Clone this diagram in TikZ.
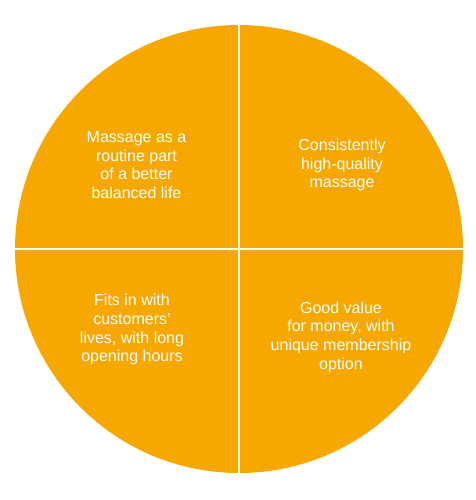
\documentclass[tikz,border=0pt]{standalone}
\usepackage{fontspec}
\setmainfont{Liberation Sans}
\definecolor{pieorange}{RGB}{246,167,0}
\begin{document}
\begin{tikzpicture}[x=1pt,y=-1pt,
  label text/.style={text=white, align=center, inner sep=0pt,
    font=\fontsize{16}{18.7}\selectfont},
  divider/.style={draw=white, line width=1.5pt}]
\useasboundingbox (0,0) rectangle (475,500);
\node (pie) [circle, fill=pieorange, minimum size=448pt, inner sep=0pt] at (239,249) {};
\draw[divider] (pie.north) -- (pie.south);
\draw[divider] (pie.west) -- (pie.east);
\node (tl) [label text] at (136.5,165) {Massage as a\\routine part\\of a better\\balanced life};
\node (tr) [label text] at (342,165) {Consistently\\high-quality\\massage};
\node (bl) [label text] at (132,329.7) {Fits in with\\customers'\\lives, with long\\opening hours};
\node (br) [label text] at (341,337) {Good value\\for money, with\\unique membership\\option};
\end{tikzpicture}
\end{document}
